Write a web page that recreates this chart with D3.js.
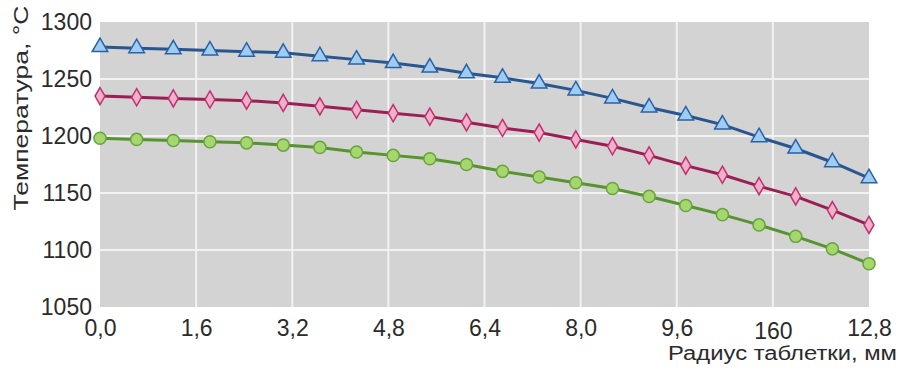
<!DOCTYPE html>
<html>
<head>
<meta charset="utf-8">
<script src="https://cdn.jsdelivr.net/npm/d3@7"></script>
<style>
  body { margin: 0; background: #fff; }
  text { font-family: "Liberation Sans", Arial, sans-serif; fill: #2b2b2b; }
</style>
</head>
<body>
<div class="layout"></div>
<script>
// radius, mm (22 points across the tablet)
var radius = [0, 0.61, 1.22, 1.83, 2.44, 3.05, 3.66, 4.27, 4.88, 5.49, 6.10,
              6.70, 7.31, 7.92, 8.53, 9.14, 9.75, 10.36, 10.97, 11.58, 12.19, 12.8];

// temperature, °C
var tempTop = [1278, 1277, 1276, 1275, 1274, 1273, 1270, 1267, 1264, 1260, 1255,
               1251, 1246, 1240, 1233, 1225, 1218, 1210, 1199, 1189, 1177, 1163];
var tempMid = [1235, 1234, 1233, 1232, 1231, 1229, 1226, 1223, 1220, 1217, 1212,
               1207, 1203, 1197, 1191, 1183, 1174, 1166, 1156, 1147, 1135, 1122];
var tempLow = [1198, 1197, 1196, 1195, 1194, 1192, 1190, 1186, 1183, 1180, 1175,
               1169, 1164, 1159, 1154, 1147, 1139, 1131, 1122, 1112, 1101, 1088];

var xTicks = [0, 1.6, 3.2, 4.8, 6.4, 8.0, 9.6, 11.2, 12.8];
var xTickLabels = ["0,0", "1,6", "3,2", "4,8", "6,4", "8,0", "9,6", "160", "12,8"];
var yTicks = [1050, 1100, 1150, 1200, 1250, 1300];

var width = 898, height = 371;
var margin = {top: 22, right: 29, bottom: 64, left: 100};
var w = width - margin.left - margin.right,
    h = height - margin.top - margin.bottom;

var x = d3.scaleLinear().domain([0, 12.8]).range([0, w]);
var y = d3.scaleLinear().domain([1050, 1300]).range([h, 0]);

var svg = d3.select(".layout").append("svg")
    .attr("width", width)
    .attr("height", height);

var g = svg.append("g")
    .attr("transform", "translate(" + margin.left + "," + margin.top + ")");

// plot background
g.append("rect")
    .attr("x", 0).attr("y", 0)
    .attr("width", w).attr("height", h)
    .attr("fill", "#d3d3d3");

// grid
g.append("g").selectAll("line.v")
    .data(xTicks.slice(1, -1))
  .enter().append("line")
    .attr("x1", function(d) { return x(d); })
    .attr("x2", function(d) { return x(d); })
    .attr("y1", 0).attr("y2", h)
    .attr("stroke", "#f2f2f2").attr("stroke-width", 2);

g.append("g").selectAll("line.h")
    .data(yTicks.slice(1, -1))
  .enter().append("line")
    .attr("x1", 0).attr("x2", w)
    .attr("y1", function(d) { return y(d); })
    .attr("y2", function(d) { return y(d); })
    .attr("stroke", "#f2f2f2").attr("stroke-width", 2);

// axes (labels only)
var xAxis = d3.axisBottom(x)
    .tickValues(xTicks)
    .tickSize(0)
    .tickPadding(13)
    .tickFormat(function(d, i) { return xTickLabels[i]; });

var yAxis = d3.axisLeft(y)
    .tickValues(yTicks)
    .tickSize(0)
    .tickPadding(8)
    .tickFormat(d3.format("d"));

var gx = g.append("g")
    .attr("transform", "translate(0," + h + ")")
    .call(xAxis);
gx.select(".domain").remove();
gx.selectAll("text")
    .style("font-size", "23px")
    .attr("fill", "#2b2b2b")
    .attr("dy", function(d, i) { return xTickLabels[i] === "160" ? "0.84em" : "0.71em"; });

var gy = g.append("g").call(yAxis);
gy.select(".domain").remove();
gy.selectAll("text")
    .style("font-size", "23px")
    .attr("fill", "#2b2b2b");

// axis titles
svg.append("text")
    .attr("transform", "translate(28,108) rotate(-90)")
    .attr("text-anchor", "middle")
    .attr("textLength", 205)
    .attr("lengthAdjust", "spacingAndGlyphs")
    .style("font-size", "21px")
    .text("Температура, °С");

svg.append("text")
    .attr("x", 897)
    .attr("y", 360)
    .attr("text-anchor", "end")
    .attr("textLength", 229)
    .attr("lengthAdjust", "spacingAndGlyphs")
    .style("font-size", "20px")
    .text("Радиус таблетки, мм");

// series
var series = [
  {values: tempTop, line: "#2a5690", stroke: "#2a62a8", fill: "#9fcdf2", shape: d3.symbolTriangle, size: 105},
  {values: tempMid, line: "#9a1f55", stroke: "#c2306f", fill: "#f0b0cc", shape: d3.symbolDiamond, size: 85},
  {values: tempLow, line: "#57932f", stroke: "#66a53a", fill: "#a6d66e", shape: d3.symbolCircle, size: 115}
];

var line = d3.line()
    .x(function(d, i) { return x(radius[i]); })
    .y(function(d) { return y(d); });

series.forEach(function(s) {
  g.append("path")
      .datum(s.values)
      .attr("d", line)
      .attr("fill", "none")
      .attr("stroke", s.line)
      .attr("stroke-width", 3);

  g.append("g").selectAll("path")
      .data(s.values)
    .enter().append("path")
      .attr("transform", function(d, i) {
        return "translate(" + x(radius[i]) + "," + y(d) + ")";
      })
      .attr("d", d3.symbol().type(s.shape).size(s.size))
      .attr("fill", s.fill)
      .attr("stroke", s.stroke)
      .attr("stroke-width", 1.5);
});
</script>
</body>
</html>
